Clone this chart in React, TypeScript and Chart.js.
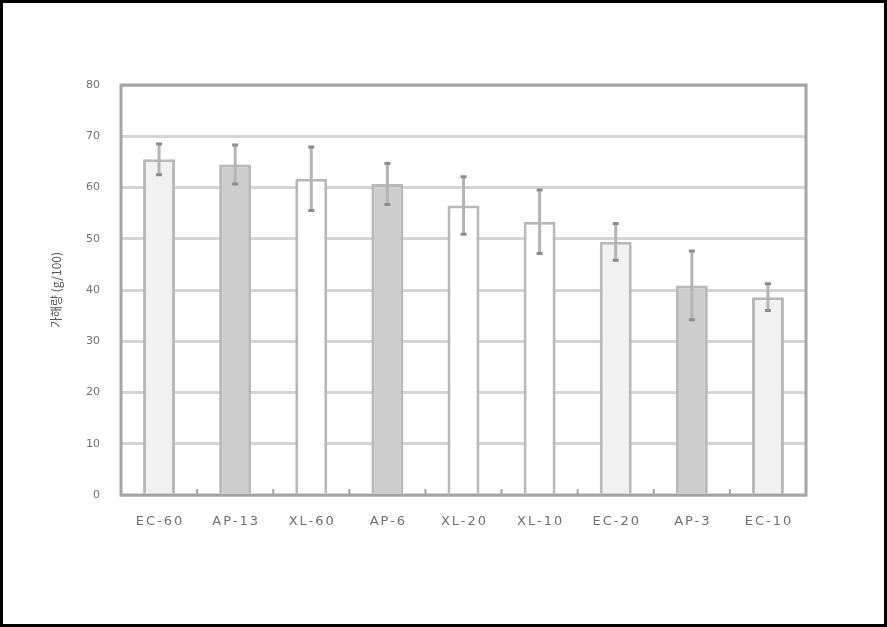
import React, { useEffect, useRef } from "react";
import { Chart, registerables } from "chart.js";

Chart.register(...registerables);

const categories = ["EC-60", "AP-13", "XL-60", "AP-6", "XL-20", "XL-10", "EC-20", "AP-3", "EC-10"];
const means = [65.5, 64.5, 61.7, 60.7, 56.5, 53.3, 49.4, 40.9, 38.6];
const errors = [3.0, 3.8, 6.2, 4.0, 5.6, 6.2, 3.6, 6.7, 2.6];
const groupColors: Record<string, string> = { EC: "#f1f1f1", AP: "#cdcdcd", XL: "#ffffff" };
const yTicks = [0, 10, 20, 30, 40, 50, 60, 70, 80];
const yTitle = "가해량 (g/100)";

export default function App() {
  const ref = useRef<HTMLCanvasElement | null>(null);
  useEffect(() => {
    if (!ref.current) return;
    const frame = {
      id: "frame",
      beforeDraw(chart: any) {
        const { ctx, width, height } = chart;
        ctx.save();
        ctx.fillStyle = "#ffffff";
        ctx.fillRect(0, 0, width, height);
        ctx.strokeStyle = "#000000";
        ctx.lineWidth = 3;
        ctx.strokeRect(1.5, 1.5, width - 3, height - 3);
        ctx.restore();
      },
      afterDatasetsDraw(chart: any) {
        const { ctx, chartArea } = chart;
        const x = chart.scales.x;
        const y = chart.scales.y;
        ctx.save();
        means.forEach((m, i) => {
          const cx = x.getPixelForValue(i);
          const top = y.getPixelForValue(m + errors[i]);
          const bot = y.getPixelForValue(m - errors[i]);
          ctx.strokeStyle = "#b4b4b4";
          ctx.lineWidth = 3;
          ctx.beginPath();
          ctx.moveTo(cx, top);
          ctx.lineTo(cx, bot);
          ctx.stroke();
          ctx.strokeStyle = "#8c8c8c";
          ctx.lineWidth = 3;
          ctx.beginPath();
          ctx.moveTo(cx - 3, top);
          ctx.lineTo(cx + 3, top);
          ctx.moveTo(cx - 3, bot);
          ctx.lineTo(cx + 3, bot);
          ctx.stroke();
        });
        // category boundary tick marks pointing inward
        const step = (chartArea.right - chartArea.left) / categories.length;
        ctx.strokeStyle = "#a4a4a4";
        ctx.lineWidth = 2;
        ctx.beginPath();
        for (let i = 1; i < categories.length; i++) {
          const bx = chartArea.left + step * i;
          ctx.moveTo(bx, chartArea.bottom);
          ctx.lineTo(bx, chartArea.bottom - 6);
        }
        ctx.stroke();
        ctx.strokeStyle = "#a4a4a4";
        ctx.lineWidth = 3;
        ctx.strokeRect(chartArea.left, chartArea.top, chartArea.right - chartArea.left, chartArea.bottom - chartArea.top);
        // x labels with wide spacing
        ctx.fillStyle = "#707070";
        ctx.font = "13px 'DejaVu Sans', sans-serif";
        (ctx as any).letterSpacing = "2px";
        ctx.textAlign = "center";
        ctx.textBaseline = "middle";
        categories.forEach((c, i) => {
          ctx.fillText(c, x.getPixelForValue(i) + 1, chartArea.bottom + 27);
        });
        (ctx as any).letterSpacing = "0px";
        ctx.restore();
      },
    };
    const chart = new Chart(ref.current, {
      type: "bar",
      data: {
        labels: categories,
        datasets: [
          {
            data: means,
            backgroundColor: categories.map((c) => groupColors[c.slice(0, 2)]),
            borderColor: "#b8b8b8",
            borderWidth: 3,
            barPercentage: 0.42,
            categoryPercentage: 1,
          },
        ],
      },
      options: {
        animation: false,
        responsive: false,
        maintainAspectRatio: false,
        layout: { padding: { left: 0, top: 85, right: 81, bottom: 87 } },
        plugins: { legend: { display: false }, tooltip: { enabled: false } },
        scales: {
          x: {
            grid: { display: false },
            border: { display: false },
            ticks: { display: false },
            afterFit(s: any) {
              s.height = 45;
            },
          },
          y: {
            min: 0,
            max: 80,
            afterBuildTicks(s: any) {
              s.ticks = yTicks.map((v) => ({ value: v }));
            },
            grid: { color: "#d4d4d4", lineWidth: 3, drawTicks: false },
            border: { display: false },
            ticks: {
              padding: 21,
              color: "#707070",
              font: { family: "'DejaVu Sans', sans-serif", size: 11 },
            },
            title: {
              display: true,
              text: yTitle,
              color: "#555555",
              padding: { top: 49, bottom: 0 },
              font: { family: "'Noto Sans CJK KR', sans-serif", size: 12 },
            },
            afterFit(s: any) {
              s.width = 121;
            },
          },
        },
      },
      plugins: [frame],
    });
    return () => chart.destroy();
  }, []);
  return (
    <div style={{ position: "fixed", left: 0, top: 0, width: 887, height: 627 }}>
      <canvas ref={ref} width={887} height={627} style={{ display: "block", width: 887, height: 627 }} />
    </div>
  );
}
